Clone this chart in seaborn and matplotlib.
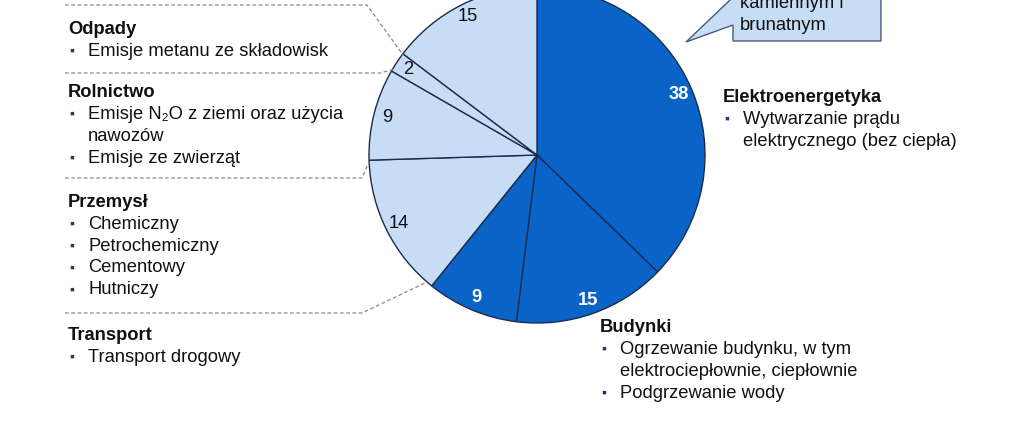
import matplotlib
matplotlib.use("Agg")
import matplotlib.pyplot as plt
import seaborn as sns
from matplotlib.patches import Polygon

sns.set_theme(style="white")
plt.rcParams['font.family'] = ['Liberation Sans', 'DejaVu Sans']
plt.rcParams['text.color'] = '#111111'

# ---- data ----
sectors = ["Elektroenergetyka", "Budynki", "Transport", "Przemysł", "Rolnictwo", "Odpady", "Inne"]
values = [38, 15, 9, 14, 9, 2, 15]
dark_group = [True, True, True, False, False, False, False]

left_headers = ["Odpady", "Rolnictwo", "Przemysł", "Transport"]
left_items = [
    ["Emisje metanu ze składowisk"],
    ["Emisje N₂O z ziemi oraz użycia\nnawozów", "Emisje ze zwierząt"],
    ["Chemiczny", "Petrochemiczny", "Cementowy", "Hutniczy"],
    ["Transport drogowy"],
]
right_header_1 = "Elektroenergetyka"
right_items_1 = ["Wytwarzanie prądu\nelektrycznego (bez ciepła)"]
right_header_2 = "Budynki"
right_items_2 = ["Ogrzewanie budynku, w tym\nelektrociepłownie, ciepłownie", "Podgrzewanie wody"]
callout_lines = ["kamiennym i", "brunatnym"]

DARK = "#0A64C8"
LIGHT = "#C6DDF5"
EDGE = "#1C2B4F"
BULLET = "#1F3A70"
W, H = 1024, 423

fig = plt.figure(figsize=(W / 100, H / 100), dpi=100)
ax = fig.add_axes([0, 0, 1, 1])

def Y(y):
    return H - y

FS = 13.2
LH = 22

total = sum(values)
cols = [DARK if d else LIGHT for d in dark_group]
wedges, texts, autotexts = ax.pie(
    values, colors=cols, startangle=90, counterclock=False,
    center=(537, Y(155)), radius=168,
    autopct=lambda p: f"{round(p * total / 100)}", pctdistance=0.92,
    wedgeprops=dict(edgecolor=EDGE, linewidth=1.0),
    textprops=dict(fontsize=FS), frame=True)
for t, d in zip(autotexts, dark_group):
    t.set_color("white" if d else "#111111")
    if d:
        t.set_fontweight("bold")

ax.set_xlim(0, W)
ax.set_ylim(0, H)
ax.set_aspect("equal")
ax.axis("off")

# dashed connectors
dash = dict(color="#8a8a8a", lw=0.9, ls=(0, (3, 2)))
for xs, ys in [
    ([65, 367, 403], [5, 5, 55]),
    ([65, 380, 395], [73, 73, 69]),
    ([65, 362, 369], [178, 178, 162]),
    ([65, 362, 427], [313, 313, 282]),
]:
    ax.plot(xs, [Y(v) for v in ys], **dash)


def block(x, y, header, items):
    ax.text(x, Y(y), header, fontsize=FS, fontweight="bold", va="center", ha="left")
    yy = y + LH
    for it in items:
        ax.text(x + 1, Y(yy), "▪", fontsize=10, color=BULLET, va="center", ha="left")
        for line in it.split("\n"):
            ax.text(x + 20, Y(yy), line, fontsize=FS, va="center", ha="left")
            yy += LH

left_y = [29, 92, 202, 335]
for h, its, y in zip(left_headers, left_items, left_y):
    block(68, y, h, its)

block(723, 97, right_header_1, right_items_1)
block(600, 327, right_header_2, right_items_2)

# callout box at the top right
pts = [(686, 42), (751, -20), (881, -20), (881, 41), (733, 41), (733, 25)]
ax.add_patch(Polygon([(x, Y(y)) for x, y in pts], closed=True,
                     facecolor=LIGHT, edgecolor="#4a5a7a", lw=1.0))
ax.text(740, Y(3), callout_lines[0], fontsize=FS, va="center", ha="left")
ax.text(740, Y(25), callout_lines[1], fontsize=FS, va="center", ha="left")

fig.savefig("out.png", dpi=100)
